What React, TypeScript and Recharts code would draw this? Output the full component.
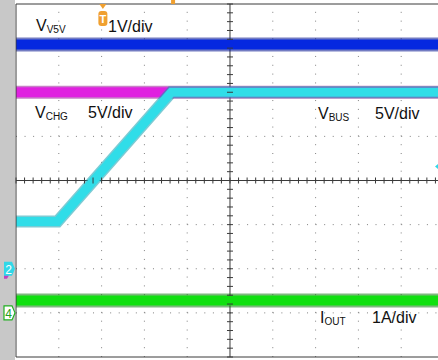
import { ComposedChart, Line, Scatter, XAxis, YAxis, ReferenceLine } from "recharts"

// scope screen in divisions: 10 across (cropped at ~9.86), 8 tall, centre = 0
const X_END = 9.86

// traces (time div, level div)
const v5vTime = [0, X_END]
const v5vLevel = [3.08, 3.08]
const vchgTime = [0, X_END]
const vchgLevel = [2.0, 2.0]
const vbusTime = [0, 0.97, 3.63, X_END]
const vbusLevel = [-0.93, -0.93, 2.0, 2.0]
const ioutTime = [0, X_END]
const ioutLevel = [-2.72, -2.72]

// graticule
const majorX = [1, 2, 3, 4, 6, 7, 8, 9]
const majorY = [-3, -2, -1, 1, 2, 3]
const minorX = Array.from({ length: 50 }, (_, i) => +(i * 0.2).toFixed(1))
const minorY = Array.from({ length: 41 }, (_, i) => +(-4 + i * 0.2).toFixed(1))

// markers
const triggerAt = [2.03]
const delayAt = [3.67]
const groundLevels = [-2, -3]
const triggerLevel = [0.32]

const toPoints = (t: number[], v: number[]) => t.map((x, i) => ({ t: x, v: v[i] }))

const GRID = "#3a3a3a"
const DOT = "#808080"
const FONT = 'Arial, "Liberation Sans", sans-serif'

const VTick = (p: any) => <line x1={p.cx} x2={p.cx} y1={p.cy - 3} y2={p.cy + 3} stroke={GRID} strokeWidth={1} />
const HTick = (p: any) => <line x1={p.cx - 3} x2={p.cx + 3} y1={p.cy} y2={p.cy} stroke={GRID} strokeWidth={1} />

const TriggerMark = (p: any) => (
  <g>
    <polygon points={`${p.cx - 3.5},${p.cy} ${p.cx + 3.5},${p.cy} ${p.cx},${p.cy + 5}`} fill="#f0a030" />
    <rect x={p.cx - 4.5} y={p.cy + 7} width={9} height={15} rx={3} fill="#f0a030" />
    <text x={p.cx} y={p.cy + 19} textAnchor="middle" fontSize={11} fontWeight="bold" fill="#fff" fontFamily={FONT}>T</text>
  </g>
)

const DelayMark = (p: any) => <rect x={p.cx - 2} y={p.cy - 4} width={4} height={4} fill="#f0a030" />

const GroundMark = (p: any) => {
  const ch2 = p.payload.v === -2
  const x0 = p.cx - 12
  const path = `M${x0},${p.cy - 7} L${p.cx - 4},${p.cy - 7} L${p.cx - 1},${p.cy} L${p.cx - 4},${p.cy + 7} L${x0},${p.cy + 7} Z`
  return ch2 ? (
    <g>
      <path d={`M${x0},${p.cy + 5} L${p.cx - 6},${p.cy + 5} L${p.cx - 9},${p.cy + 10} L${x0},${p.cy + 10} Z`} fill="#c040c0" />
      <path d={path} fill="#30d8e8" />
      <text x={x0 + 4.5} y={p.cy + 5} textAnchor="middle" fontSize={12} fill="#fff" fontFamily={FONT}>2</text>
    </g>
  ) : (
    <g>
      <path d={path} fill="#fff" stroke="#20b020" strokeWidth={1.2} />
      <text x={x0 + 4.5} y={p.cy + 5} textAnchor="middle" fontSize={12} fill="#20a020" fontFamily={FONT}>4</text>
    </g>
  )
}

const LevelMark = (p: any) => (
  <polygon points={`${p.cx - 3},${p.cy} ${p.cx + 3},${p.cy - 5} ${p.cx + 3},${p.cy + 5}`} fill="#30d8e8" />
)

const label = (left: number, top: number, main: string, sub?: string) => (
  <span style={{ position: "absolute", left, top, fontSize: 16, lineHeight: 1, fontFamily: FONT, color: "#111", whiteSpace: "nowrap" }}>
    {main}
    {sub && <span style={{ fontSize: 10, position: "relative", top: 2 }}>{sub}</span>}
  </span>
)

export default function App() {
  const v5v = toPoints(v5vTime, v5vLevel)
  const vchg = toPoints(vchgTime, vchgLevel)
  const vbus = toPoints(vbusTime, vbusLevel)
  const iout = toPoints(ioutTime, ioutLevel)

  return (
    <div style={{ position: "absolute", left: 0, top: 0, width: 438, height: 360, overflow: "hidden", background: "#fff" }}>
      <div style={{ position: "absolute", left: 0, top: 0, width: 15, height: 360, background: "#c8c8c8" }} />
      <ComposedChart width={438} height={360} margin={{ top: 4, right: 0, bottom: 3, left: 16 }} style={{ position: "absolute", left: 0, top: 0 }}>
        <XAxis dataKey="t" type="number" domain={[0, X_END]} mirror ticks={minorX} interval={0} tick={false} tickSize={4} axisLine={{ stroke: GRID }} tickLine={{ stroke: GRID }} />
        <XAxis xAxisId="top" dataKey="t" type="number" orientation="top" domain={[0, X_END]} mirror ticks={minorX} interval={0} tick={false} tickSize={4} axisLine={{ stroke: GRID }} tickLine={{ stroke: GRID }} />
        <YAxis dataKey="v" type="number" domain={[-4, 4]} mirror ticks={minorY} interval={0} tick={false} tickSize={4} axisLine={{ stroke: GRID }} tickLine={{ stroke: GRID }} />

        {majorX.map((x) => (
          <ReferenceLine key={"x" + x} x={x} stroke={DOT} strokeDasharray="1 7.825" />
        ))}
        {majorY.map((y) => (
          <ReferenceLine key={"y" + y} y={y} stroke={DOT} strokeDasharray="1 7.56" />
        ))}
        <ReferenceLine x={5} stroke={GRID} />
        <ReferenceLine y={0} stroke={GRID} />
        <Scatter data={minorX.map((t) => ({ t, v: 0 }))} dataKey="v" shape={VTick} isAnimationActive={false} />
        <Scatter data={minorY.map((v) => ({ t: 5, v }))} dataKey="v" shape={HTick} isAnimationActive={false} />

        <Line data={v5v} dataKey="v" type="linear" stroke="#001090" strokeOpacity={0.55} strokeWidth={14} dot={false} isAnimationActive={false} />
        <Line data={v5v} dataKey="v" type="linear" stroke="#0528e0" strokeWidth={10} dot={false} isAnimationActive={false} />
        <Line data={vchg} dataKey="v" type="linear" stroke="#900090" strokeOpacity={0.5} strokeWidth={13} dot={false} isAnimationActive={false} />
        <Line data={vchg} dataKey="v" type="linear" stroke="#e020e0" strokeWidth={10} dot={false} isAnimationActive={false} />
        <Line data={vbus} dataKey="v" type="linear" stroke="#10a0b0" strokeOpacity={0.55} strokeWidth={12} dot={false} isAnimationActive={false} />
        <Line data={vbus} dataKey="v" type="linear" stroke="#30dde8" strokeWidth={9} dot={false} isAnimationActive={false} />
        <Line data={iout} dataKey="v" type="linear" stroke="#007000" strokeOpacity={0.5} strokeWidth={14} dot={false} isAnimationActive={false} />
        <Line data={iout} dataKey="v" type="linear" stroke="#10e010" strokeWidth={10} dot={false} isAnimationActive={false} />

        <Scatter data={triggerAt.map((t) => ({ t, v: 4 }))} dataKey="v" shape={TriggerMark} isAnimationActive={false} />
        <Scatter data={delayAt.map((t) => ({ t, v: 4 }))} dataKey="v" shape={DelayMark} isAnimationActive={false} />
        <Scatter data={groundLevels.map((v) => ({ t: 0, v }))} dataKey="v" shape={GroundMark} isAnimationActive={false} />
        <Scatter data={triggerLevel.map((v) => ({ t: X_END, v }))} dataKey="v" shape={LevelMark} isAnimationActive={false} />
      </ComposedChart>

      {label(36, 17.5, "V", "V5V")}
      {label(108, 18.5, "1V/div")}
      {label(35, 104.5, "V", "CHG")}
      {label(88, 104.5, "5V/div")}
      {label(318, 105.5, "V", "BUS")}
      {label(375, 105.5, "5V/div")}
      {label(320, 309.5, "I", "OUT")}
      {label(372, 309.5, "1A/div")}
    </div>
  )
}
